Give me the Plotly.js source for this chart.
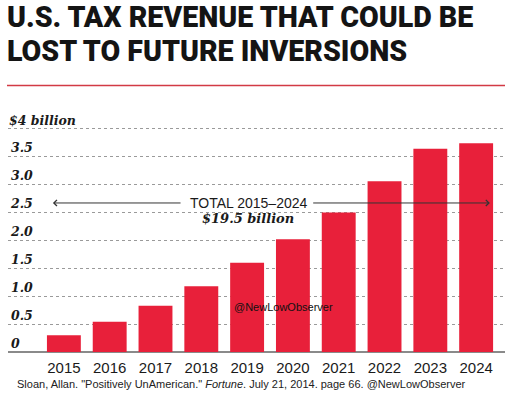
<!DOCTYPE html>
<html>
<head>
<meta charset="utf-8">
<script src="https://cdn.plot.ly/plotly-3.0.1.min.js"></script>
<style>
html,body{margin:0;padding:0;background:#fff;}
#chart{width:519px;height:394px;}
</style>
</head>
<body>
<div id="chart"></div>
<script>
const years = ["2015","2016","2017","2018","2019","2020","2021","2022","2023","2024"];
const revenue = [0.30, 0.54, 0.83, 1.18, 1.60, 2.02, 2.50, 3.06, 3.64, 3.74];
const yTickVals = [0, 0.5, 1.0, 1.5, 2.0, 2.5, 3.0, 3.5, 4];
const yTickText = ["0", "0.5", "1.0", "1.5", "2.0", "2.5", "3.0", "3.5", "$4 billion"];
const titleLines = ["U.S. TAX REVENUE THAT COULD BE", "LOST TO FUTURE INVERSIONS"];
const totalLabel = "TOTAL 2015\u20132024";
const totalValue = "$19.5 billion";
const sourceText = 'Sloan, Allan. "Positively UnAmerican." <i>Fortune</i>. July 21, 2014. page 66. @NewLowObserver';
const watermark = "@NewLowObserver";

const arrowY = 2.67;
const titleFont = {family: "Roboto, sans-serif", size: 28.6, color: "#141414", weight: 900};
const yLabelFont = {family: "DejaVu Serif, Georgia, serif", size: 12.5, color: "#1a1a1a", weight: "bold", style: "italic"};

// the top label is drawn as an annotation so that it does not hide the first year label
const lastIdx = yTickVals.length - 1;
const axisTickText = yTickText.map((t, i) => i === lastIdx ? "" : t);

const trace = {
  type: "bar",
  x: years,
  y: revenue,
  marker: {color: "#e8203a", line: {width: 0}},
  hoverinfo: "skip"
};

const layout = {
  width: 519, height: 394,
  margin: {l: 8, r: 14, t: 112, b: 42},
  paper_bgcolor: "#fff", plot_bgcolor: "#fff",
  showlegend: false,
  bargap: 0.26,
  xaxis: {
    type: "category",
    range: [-1.22, 9.63],
    showgrid: false, zeroline: false,
    showline: false,
    ticks: "",
    ticklabelstandoff: 5,
    tickfont: {family: "Liberation Sans, Arial, sans-serif", size: 15, color: "#1a1a1a"},
    fixedrange: true
  },
  yaxis: {
    range: [0, 4.3],
    tickvals: yTickVals,
    ticktext: axisTickText,
    ticklabelposition: "inside top",
    tickfont: yLabelFont,
    showgrid: true, gridcolor: "#9a9a9a", griddash: "dot", gridwidth: 1,
    zeroline: true, zerolinecolor: "#8a8a8a", zerolinewidth: 1.5,
    ticks: "",
    fixedrange: true
  },
  shapes: [
    {type: "line", xref: "paper", yref: "paper", x0: -0.002, x1: 1.0, y0: 1.110, y1: 1.110,
     line: {color: "#d23a44", width: 1.5}}
  ],
  annotations: [
    {xref: "paper", yref: "paper", x: -0.004, y: 1.397, xanchor: "left", yanchor: "middle",
     text: titleLines[0], showarrow: false, font: titleFont, borderpad: 0},
    {xref: "paper", yref: "paper", x: -0.004, y: 1.255, xanchor: "left", yanchor: "middle",
     text: titleLines[1], showarrow: false, font: titleFont, borderpad: 0},
    {xref: "paper", yref: "y", x: 0.001, y: yTickVals[lastIdx], xanchor: "left", yanchor: "bottom",
     text: yTickText[lastIdx], showarrow: false, font: yLabelFont, borderpad: 0},
    {xref: "x", yref: "y", x: 4.02, y: arrowY, xanchor: "center", yanchor: "middle",
     text: totalLabel, showarrow: false,
     font: {family: "Liberation Sans, Arial, sans-serif", size: 14, color: "#1a1a1a"}},
    {xref: "x", yref: "y", x: 4.02, y: 2.40, xanchor: "center", yanchor: "middle",
     text: totalValue, showarrow: false,
     font: {family: "DejaVu Serif, Georgia, serif", size: 13, color: "#1a1a1a", weight: "bold", style: "italic"}},
    {xref: "x", yref: "y", axref: "x", ayref: "y", x: -0.24, y: arrowY, ax: 2.58, ay: arrowY,
     text: "", showarrow: true, arrowhead: 4, arrowsize: 1.2, arrowwidth: 1, arrowcolor: "#333"},
    {xref: "x", yref: "y", axref: "x", ayref: "y", x: 9.30, y: arrowY, ax: 5.41, ay: arrowY,
     text: "", showarrow: true, arrowhead: 4, arrowsize: 1.2, arrowwidth: 1, arrowcolor: "#333"},
    {xref: "x", yref: "y", x: 4.8, y: 0.81, xanchor: "center", yanchor: "middle",
     text: watermark, showarrow: false,
     font: {family: "Liberation Sans, Arial, sans-serif", size: 11, color: "#111"}},
    {xref: "paper", yref: "paper", x: 0.014, y: -0.1335, xanchor: "left", yanchor: "middle",
     text: sourceText, showarrow: false,
     font: {family: "Liberation Sans, Arial, sans-serif", size: 11, color: "#222"}}
  ]
};

Plotly.newPlot("chart", [trace], layout, {staticPlot: true, displayModeBar: false});
</script>
</body>
</html>
